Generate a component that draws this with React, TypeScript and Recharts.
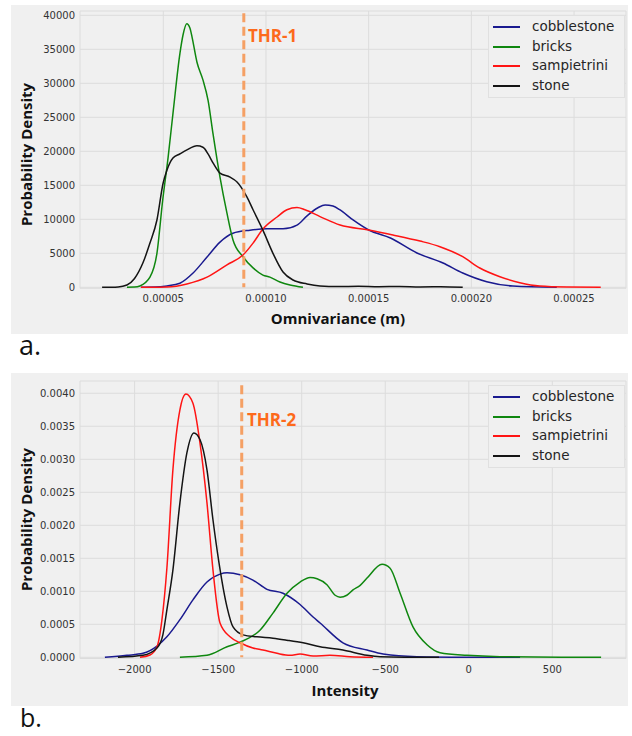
import React from 'react';
import { LineChart, Line, XAxis, YAxis, CartesianGrid, ReferenceLine, Legend } from 'recharts';

// ---------- series ----------
const seriesNames = ['cobblestone', 'bricks', 'sampietrini', 'stone'];
const seriesColors = ['#1a1a8f', '#0f870f', '#ff1414', '#141414'];

// ---------- panel a: Omnivariance (m) ----------
const omniCobblestoneX = [3.91e-5, 4.6e-5, 5.18e-5, 5.81e-5, 6.45e-5, 7.13e-5, 7.76e-5, 8.39e-5, 9.22e-5, 10.05e-5, 10.83e-5, 11.51e-5, 12.0e-5, 12.53e-5, 12.88e-5, 13.26e-5, 13.61e-5, 14.24e-5, 15.0e-5, 16.06e-5, 17.35e-5, 18.62e-5, 19.58e-5, 20.75e-5, 22.02e-5, 24.16e-5];
const omniCobblestoneY = [0, 30, 200, 600, 2100, 4450, 6650, 7950, 8400, 8600, 8600, 9150, 10500, 11700, 12100, 11950, 11370, 9900, 8430, 7250, 5050, 3570, 2100, 820, 190, 0];

const omniBricksX = [3.23e-5, 3.6e-5, 3.86e-5, 4.35e-5, 4.69e-5, 4.97e-5, 5.23e-5, 5.49e-5, 5.81e-5, 5.96e-5, 6.14e-5, 6.30e-5, 6.40e-5, 6.64e-5, 6.93e-5, 7.18e-5, 7.42e-5, 7.76e-5, 8.10e-5, 8.39e-5, 8.88e-5, 9.37e-5, 9.85e-5, 10.19e-5, 10.68e-5, 11.17e-5, 11.80e-5];
const omniBricksY = [0, 30, 200, 1500, 5000, 12800, 19000, 26100, 34400, 37100, 38760, 38100, 36800, 33100, 30500, 27500, 22600, 16200, 10900, 7000, 4500, 2850, 1800, 1500, 780, 340, 0];

const omniSampietriniX = [3.91e-5, 4.6e-5, 5.18e-5, 6.15e-5, 7.13e-5, 8.10e-5, 8.88e-5, 9.37e-5, 9.85e-5, 10.54e-5, 11.02e-5, 11.51e-5, 11.90e-5, 12.63e-5, 13.61e-5, 15.0e-5, 16.18e-5, 17.5e-5, 18.47e-5, 19.58e-5, 20.41e-5, 21.39e-5, 22.36e-5, 23.33e-5, 24.65e-5, 26.3e-5];
const omniSampietriniY = [0, 20, 50, 500, 1500, 3300, 4750, 6500, 8570, 10340, 11400, 11730, 11400, 10400, 9160, 8430, 7700, 6800, 5970, 4500, 2840, 1560, 680, 190, 40, 0];

const omniStoneX = [2.02e-5, 2.8e-5, 3.23e-5, 3.6e-5, 4.01e-5, 4.35e-5, 4.69e-5, 4.99e-5, 5.18e-5, 5.47e-5, 5.8e-5, 6.15e-5, 6.64e-5, 6.93e-5, 7.2e-5, 7.42e-5, 7.76e-5, 8.25e-5, 8.59e-5, 9.07e-5, 9.37e-5, 9.85e-5, 10.34e-5, 10.83e-5, 11.32e-5, 12.0e-5, 12.63e-5, 13.5e-5, 14.5e-5, 15.5e-5, 16.5e-5, 17.5e-5, 18.5e-5, 19.58e-5];
const omniStoneY = [0, 60, 340, 1300, 3600, 6500, 9900, 15300, 17250, 19000, 19600, 20200, 20800, 20600, 19500, 18300, 16800, 16200, 15500, 13300, 11400, 8400, 5000, 2250, 1070, 500, 200, 100, 150, 80, 120, 60, 80, 0];

const omniXTicks = [0.00005, 0.0001, 0.00015, 0.0002, 0.00025];
const omniYTicks = [0, 5000, 10000, 15000, 20000, 25000, 30000, 35000, 40000];
const omniThreshold = 0.0000892;

// ---------- panel b: Intensity ----------
const intCobblestoneX = [-2178, -2046, -1950, -1866, -1807, -1729, -1651, -1567, -1489, -1447, -1369, -1292, -1208, -1112, -1010, -932, -890, -753, -609, -513, -310, -11, 307];
const intCobblestoneY = [0, 0.00003, 0.00006, 0.00017, 0.00031, 0.00057, 0.00087, 0.00114, 0.00126, 0.00128, 0.00125, 0.00117, 0.00103, 0.00097, 0.0008, 0.00061, 0.00052, 0.00022, 0.00011, 0.00005, 0.00001, 0.000002, 0];

const intBricksX = [-1729, -1567, -1447, -1369, -1250, -1172, -1088, -1010, -950, -908, -849, -800, -770, -730, -693, -650, -609, -519, -471, -411, -334, -250, -172, -11, 187, 792];
const intBricksY = [0, 0.00003, 0.00016, 0.00023, 0.00041, 0.00067, 0.00097, 0.00114, 0.00121, 0.00119, 0.0011, 0.00094, 0.00091, 0.00094, 0.00102, 0.00109, 0.0012, 0.00141, 0.00135, 0.00097, 0.00046, 0.00019, 0.00007, 0.00003, 0.00001, 0];

const intSampietriniX = [-1968, -1908, -1866, -1837, -1807, -1771, -1729, -1693, -1651, -1609, -1567, -1531, -1489, -1429, -1369, -1292, -1232, -1148, -1070, -1010, -932, -831, -711, -573];
const intSampietriniY = [0, 0.000035, 0.00016, 0.00056, 0.00135, 0.00284, 0.00375, 0.00399, 0.00385, 0.00325, 0.00234, 0.00132, 0.00052, 0.00031, 0.00022, 0.00014, 0.00011, 0.00006, 0.00003, 0.00005, 0.00002, 0.00003, 0.00001, 0];

const intStoneX = [-2100, -1950, -1866, -1831, -1807, -1771, -1729, -1687, -1645, -1609, -1567, -1531, -1495, -1447, -1411, -1351, -1268, -1172, -1088, -992, -890, -753, -609, -531, -178];
const intStoneY = [0, 0.00003, 0.00014, 0.00034, 0.00072, 0.00132, 0.00234, 0.0031, 0.0034, 0.0033, 0.00284, 0.00208, 0.00143, 0.00076, 0.00046, 0.00034, 0.00031, 0.00029, 0.00026, 0.00022, 0.00016, 0.00011, 0.00003, 0.00001, 0];

const intXTicks = [-2000, -1500, -1000, -500, 0, 500];
const intYTicks = [0, 0.0005, 0.001, 0.0015, 0.002, 0.0025, 0.003, 0.0035, 0.004];
const intThreshold = -1359;

// ---------- helpers ----------
const zip = (xs: number[], ys: number[]) => xs.map((x, i) => ({ x, y: ys[i] }));

const omniSeries = [
  zip(omniCobblestoneX, omniCobblestoneY),
  zip(omniBricksX, omniBricksY),
  zip(omniSampietriniX, omniSampietriniY),
  zip(omniStoneX, omniStoneY),
];
const intSeries = [
  zip(intCobblestoneX, intCobblestoneY),
  zip(intBricksX, intBricksY),
  zip(intSampietriniX, intSampietriniY),
  zip(intStoneX, intStoneY),
];

const TICK_STYLE = { fontFamily: 'DejaVu Sans', fontSize: 10, fill: '#333333' };
const LABEL_FONT = { fontFamily: 'Open Sans', fontWeight: 700, fontSize: 15, fill: '#111111' };
const THR_FONT = { fontFamily: 'Open Sans', fontWeight: 700, fontSize: 17, fill: '#fd6a1b' };

const minusFmt = (v: number) => (v < 0 ? '\u2212' + Math.abs(v) : String(v));

function LegendBox() {
  return (
    <div
      style={{
        background: '#f0f0f0',
        border: '1px solid #e0e0e0',
        padding: '1px 0 1px 4px',
        width: 137,
        boxSizing: 'border-box',
        fontFamily: 'DejaVu Sans',
        fontSize: 13.5,
        color: '#262626',
      }}
    >
      {seriesNames.map((n, i) => (
        <div key={n} style={{ display: 'flex', alignItems: 'center', height: 19.7 }}>
          <span
            style={{
              display: 'inline-block',
              width: 27,
              height: 0,
              borderTop: `2px solid ${seriesColors[i]}`,
              marginRight: 12,
            }}
          />
          <span style={{ lineHeight: '19.7px' }}>{n}</span>
        </div>
      ))}
    </div>
  );
}

type PanelProps = {
  series: { x: number; y: number }[][];
  xDomain: [number, number];
  yDomain: [number, number];
  xTicks: number[];
  yTicks: number[];
  xFmt: (v: number) => string;
  yFmt: (v: number) => string;
  bottomMargin: number;
  thr: number;
  thrTop: number;
  thrText: string;
  thrTextX: number;
  thrTextY: number;
  xLabel: string;
  xLabelX: number;
  xLabelY: number;
  yLabelY: number;
};

function Panel(p: PanelProps) {
  return (
    <LineChart width={632} height={340} margin={{ top: 11, right: 6, bottom: p.bottomMargin, left: 0 }}>
      <CartesianGrid stroke="#dcdcdc" strokeWidth={1} />
      <XAxis
        type="number"
        dataKey="x"
        domain={p.xDomain}
        ticks={p.xTicks}
        interval={0}
        tickFormatter={p.xFmt}
        allowDataOverflow
        axisLine={false}
        tickLine={false}
        tickSize={0}
        tickMargin={7}
        height={30}
        tick={TICK_STYLE}
        label={() => (
          <text x={p.xLabelX} y={p.xLabelY} textAnchor="middle" {...LABEL_FONT}>
            {p.xLabel}
          </text>
        )}
      />
      <YAxis
        type="number"
        dataKey="y"
        domain={p.yDomain}
        ticks={p.yTicks}
        interval={0}
        tickFormatter={p.yFmt}
        allowDataOverflow
        axisLine={false}
        tickLine={false}
        tickSize={0}
        tickMargin={5}
        width={80}
        tick={TICK_STYLE}
        label={() => (
          <text transform={`translate(32.4,${p.yLabelY}) rotate(-90)`} textAnchor="middle" {...LABEL_FONT}>
            Probability Density
          </text>
        )}
      />
      <Legend
        layout="horizontal"
        align="center"
        verticalAlign="middle"
        wrapperStyle={{ left: 488, top: 15, width: 137, height: 'auto', right: 'auto', bottom: 'auto' }}
        content={() => <LegendBox />}
      />
      {p.series.map((d, i) => (
        <Line
          key={seriesNames[i]}
          data={d}
          dataKey="y"
          name={seriesNames[i]}
          type="monotone"
          stroke={seriesColors[i]}
          strokeWidth={1.5}
          dot={false}
          activeDot={false}
          isAnimationActive={false}
        />
      ))}
      <ReferenceLine
        segment={[
          { x: p.thr, y: p.thrTop },
          { x: p.thr, y: 0 },
        ]}
        stroke="#f5a064"
        strokeWidth={3}
        strokeDasharray="9 4.5"
        label={() => (
          <text x={p.thrTextX} y={p.thrTextY} {...THR_FONT}>
            {p.thrText}
          </text>
        )}
      />
    </LineChart>
  );
}

export default function App() {
  return (
    <div style={{ position: 'absolute', left: 0, top: 0, width: 632, height: 736, background: '#ffffff' }}>
      <svg width={632} height={736} style={{ position: 'absolute', left: 0, top: 0 }}>
        <rect x={11} y={5} width={617} height={329} fill="#f0f0f0" />
        <rect x={11} y={373} width={617} height={333} fill="#f0f0f0" />
        <text x={19} y={355} fontFamily="Open Sans" fontSize={27} fill="#111111">
          a.
        </text>
        <text x={20} y={727} fontFamily="Open Sans" fontSize={25} fill="#111111">
          b.
        </text>
      </svg>
      <div style={{ position: 'absolute', left: 0, top: 0 }}>
        <Panel
          series={omniSeries}
          xDomain={[0.944e-5, 27.53e-5]}
          yDomain={[-147, 40633]}
          xTicks={omniXTicks}
          yTicks={omniYTicks}
          xFmt={(v) => v.toFixed(5)}
          yFmt={(v) => String(v)}
          bottomMargin={21.7}
          thr={omniThreshold}
          thrTop={40300}
          thrText="THR-1"
          thrTextX={248}
          thrTextY={42}
          xLabel="Omnivariance (m)"
          xLabelX={338}
          xLabelY={324}
          yLabelY={154.5}
        />
      </div>
      <div style={{ position: 'absolute', left: 0, top: 370 }}>
        <Panel
          series={intSeries}
          xDomain={[-2327, 941]}
          yDomain={[-0.0000182, 0.004186]}
          xTicks={intXTicks}
          yTicks={intYTicks}
          xFmt={minusFmt}
          yFmt={(v) => v.toFixed(4)}
          bottomMargin={21.5}
          thr={intThreshold}
          thrTop={0.00412}
          thrText="THR-2"
          thrTextX={247}
          thrTextY={55.7}
          xLabel="Intensity"
          xLabelX={345}
          xLabelY={326}
          yLabelY={149.5}
        />
      </div>
    </div>
  );
}
